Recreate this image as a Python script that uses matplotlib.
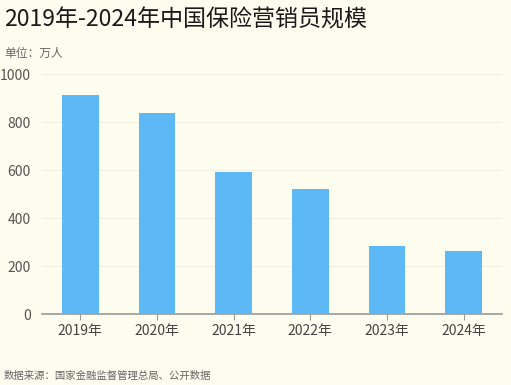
import matplotlib.pyplot as plt

plt.rcParams['font.family'] = ['Noto Sans CJK SC', 'DejaVu Sans']

years = ['2019年', '2020年', '2021年', '2022年', '2023年', '2024年']
agents = [912, 838, 592, 521, 283, 262]
y_ticks = [0, 200, 400, 600, 800, 1000]

bg = '#fdfdef'
fig = plt.figure(figsize=(5.11, 3.85), dpi=100, facecolor=bg)
ax = fig.add_axes([42 / 511, 1 - 314 / 385, 460 / 511, 240 / 385], facecolor=bg)

ax.bar(years, agents, width=0.48, color='#5cb9f6', zorder=3)
ax.set_xlim(-0.5, len(years) - 0.5)
ax.set_ylim(0, 1000)
ax.set_yticks(y_ticks)
ax.grid(axis='y', color='#efefe2', linewidth=0.8, zorder=0)

for s in ['top', 'right', 'left']:
    ax.spines[s].set_visible(False)
ax.spines['bottom'].set_color('#999999')
ax.spines['bottom'].set_linewidth(1.2)

ax.tick_params(axis='y', length=0, labelsize=10, labelcolor='#555555', pad=8)
ax.tick_params(axis='x', length=4, color='#999999', labelsize=10, labelcolor='#444444', pad=3)

fig.text(4 / 511, 1 - 20 / 385, '2019年-2024年中国保险营销员规模', fontsize=16.6,
         color='#1a1a1a', va='center', ha='left')
fig.text(4 / 511, 1 - 53 / 385, '单位：万人', fontsize=8.5, color='#666666', va='center', ha='left')
fig.text(4 / 511, 1 - 376 / 385, '数据来源：国家金融监督管理总局、公开数据', fontsize=7.5,
         color='#666666', va='center', ha='left')

fig.savefig('out.png', dpi=100, facecolor=bg)
